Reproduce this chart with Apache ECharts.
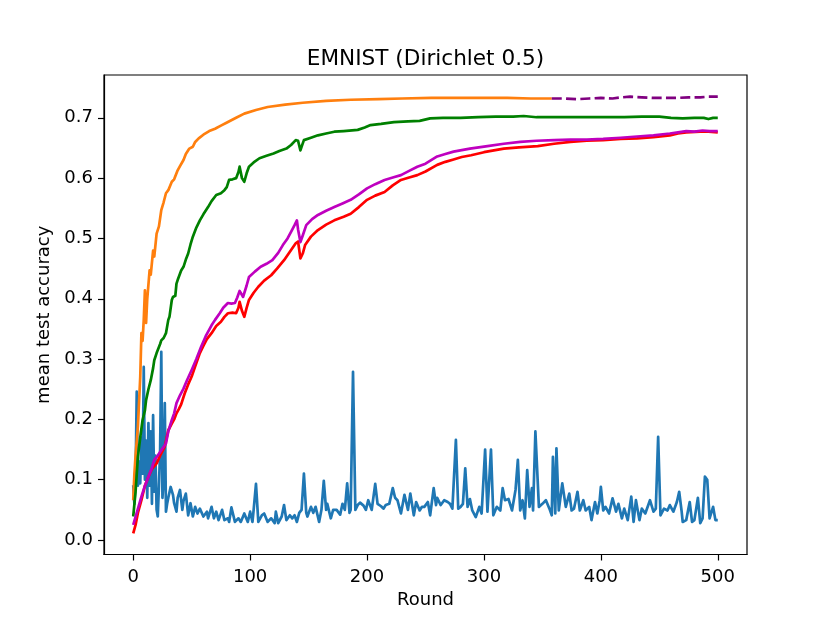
<!DOCTYPE html>
<html>
<head>
<meta charset="utf-8">
<script src="https://cdn.jsdelivr.net/npm/echarts@6/dist/echarts.min.js"></script>
<style>
  html, body { margin: 0; padding: 0; background: #fff; }
  #main { width: 830px; height: 623px; }
</style>
</head>
<body>
<div id="main"></div>
<script>
// tick labels
var xTicks = [0, 100, 200, 300, 400, 500];
var yTicks = [0, 0.1, 0.2, 0.3, 0.4, 0.5, 0.6, 0.7];

// [round, accuracy]
var blueData = [
  [0,0.091],[1,0.06],[2,0.1],[3,0.246],[4,0.09],[5,0.13],[6,0.094],[7,0.17],[8,0.11],[9,0.287],
  [10,0.1],[11,0.165],[12,0.07],[13,0.194],[14,0.09],[15,0.18],[16,0.06],[17,0.207],[18,0.08],[19,0.14],
  [20,0.05],[21,0.039],[22,0.09],[23,0.15],[24,0.312],[25,0.07],[26,0.1],[27,0.227],[28,0.047],[29,0.06],
  [30,0.07],[32,0.088],[34,0.075],[35,0.061],[37,0.047],[38,0.07],[40,0.083],[42,0.05],[43,0.065],[45,0.077],
  [47,0.041],[49,0.061],[51,0.039],[53,0.055],[55,0.044],[57,0.052],[60,0.039],[63,0.047],[64,0.036],[67,0.055],
  [69,0.036],[71,0.047],[73,0.033],[76,0.05],[78,0.033],[81,0.036],[82,0.03],[84,0.054],[87,0.03],[90,0.036],
  [92,0.03],[95,0.044],[98,0.03],[100,0.047],[102,0.03],[103,0.05],[105,0.093],[107,0.03],[110,0.041],[112,0.044],
  [115,0.03],[118,0.036],[121,0.028],[122,0.047],[124,0.028],[127,0.039],[129,0.058],[131,0.033],[134,0.041],[136,0.036],
  [138,0.041],[140,0.03],[142,0.045],[144,0.05],[146,0.11],[148,0.045],[149,0.039],[152,0.055],[154,0.045],[156,0.055],
  [159,0.03],[161,0.05],[163,0.098],[165,0.05],[166,0.06],[169,0.036],[171,0.05],[174,0.05],[177,0.042],[179,0.06],
  [181,0.05],[183,0.094],[185,0.045],[186,0.05],[188,0.279],[190,0.05],[192,0.058],[194,0.062],[197,0.057],[199,0.05],
  [201,0.066],[204,0.05],[207,0.093],[209,0.06],[212,0.056],[214,0.052],[216,0.058],[219,0.06],[222,0.086],[224,0.07],
  [226,0.066],[229,0.044],[232,0.075],[235,0.05],[237,0.077],[240,0.041],[242,0.063],[245,0.049],[247,0.055],[249,0.055],
  [252,0.063],[254,0.041],[257,0.086],[259,0.058],[260,0.07],[263,0.058],[266,0.066],[269,0.063],[271,0.06],[273,0.052],
  [276,0.166],[278,0.052],[280,0.055],[282,0.06],[284,0.119],[286,0.055],[288,0.068],[290,0.049],[293,0.038],[296,0.055],
  [298,0.044],[301,0.15],[303,0.047],[306,0.15],[308,0.041],[311,0.055],[314,0.049],[316,0.086],[318,0.066],[321,0.068],
  [324,0.049],[327,0.083],[329,0.133],[331,0.049],[333,0.066],[335,0.036],[337,0.116],[339,0.055],[341,0.086],[342,0.049],
  [344,0.18],[347,0.055],[350,0.06],[353,0.066],[356,0.052],[358,0.041],[359,0.138],[361,0.044],[362,0.152],[364,0.049],
  [367,0.094],[370,0.055],[373,0.077],[375,0.049],[377,0.052],[380,0.08],[382,0.049],[385,0.066],[387,0.049],[390,0.055],
  [392,0.033],[395,0.063],[397,0.044],[399,0.066],[400,0.088],[402,0.049],[404,0.055],[407,0.044],[410,0.069],[413,0.047],
  [415,0.06],[418,0.036],[420,0.052],[423,0.033],[426,0.072],[428,0.03],[430,0.066],[433,0.033],[435,0.052],[438,0.044],
  [442,0.066],[445,0.047],[447,0.052],[449,0.171],[451,0.041],[454,0.052],[457,0.049],[459,0.058],[462,0.047],[465,0.063],
  [467,0.08],[469,0.049],[470,0.03],[473,0.033],[476,0.063],[478,0.03],[480,0.033],[483,0.07],[485,0.028],[487,0.036],
  [489,0.105],[491,0.1],[493,0.036],[496,0.055],[498,0.033],[500,0.033]
];

var orangeData = [
  [0,0.066],[1,0.11],[2,0.14],[4,0.188],[6,0.27],[7,0.343],[8,0.33],[9,0.365],[10,0.414],[11,0.36],
  [12,0.4],[14,0.447],[15,0.44],[17,0.48],[18,0.47],[20,0.508],[22,0.52],[24,0.547],[26,0.56],[28,0.575],
  [30,0.58],[33,0.594],[35,0.598],[38,0.613],[40,0.62],[43,0.63],[45,0.64],[48,0.649],[51,0.652],[53,0.66],
  [56,0.666],[60,0.672],[65,0.678],[70,0.682],[75,0.687],[81,0.693],[88,0.7],[95,0.707],[105,0.713],[115,0.718],
  [130,0.722],[145,0.725],[165,0.728],[186,0.73],[210,0.731],[230,0.732],[255,0.733],[280,0.733],[300,0.733],[320,0.733],
  [340,0.732],[358,0.732]
];

var purpleData = [
  [358,0.732],[370,0.732],[380,0.731],[390,0.732],[400,0.733],[410,0.732],[418,0.734],[425,0.735],[435,0.734],[445,0.733],
  [455,0.733],[465,0.733],[475,0.734],[485,0.734],[492,0.735],[500,0.735]
];

var greenData = [
  [0,0.039],[2,0.08],[4,0.138],[6,0.17],[8,0.199],[10,0.215],[11,0.232],[13,0.25],[15,0.265],[17,0.285],
  [18,0.298],[20,0.31],[21,0.315],[23,0.325],[24,0.331],[26,0.335],[28,0.343],[30,0.365],[31,0.37],[33,0.398],
  [34,0.403],[36,0.405],[37,0.425],[38,0.431],[41,0.447],[43,0.453],[45,0.465],[47,0.475],[49,0.49],[51,0.503],
  [54,0.518],[57,0.53],[60,0.54],[64,0.552],[67,0.562],[71,0.572],[75,0.575],[78,0.58],[80,0.585],[82,0.597],
  [85,0.598],[88,0.6],[90,0.61],[91,0.619],[93,0.6],[95,0.594],[97,0.608],[99,0.619],[103,0.626],[108,0.633],
  [114,0.637],[120,0.641],[125,0.645],[131,0.649],[135,0.655],[139,0.663],[141,0.662],[143,0.646],[144,0.652],[146,0.663],
  [152,0.667],[158,0.671],[165,0.674],[172,0.677],[180,0.678],[192,0.68],[198,0.684],[203,0.688],[212,0.69],[223,0.693],
  [235,0.694],[245,0.695],[254,0.699],[265,0.7],[280,0.7],[295,0.701],[310,0.702],[325,0.702],[334,0.703],[345,0.701],
  [360,0.701],[375,0.701],[390,0.701],[405,0.701],[420,0.701],[435,0.702],[450,0.702],[460,0.7],[470,0.699],[480,0.7],
  [488,0.7],[492,0.698],[496,0.7],[500,0.7]
];

var redData = [
  [0,0.011],[2,0.025],[4,0.045],[7,0.066],[10,0.09],[13,0.105],[16,0.118],[20,0.127],[23,0.14],[27,0.155],
  [30,0.182],[33,0.193],[35,0.2],[37,0.21],[39,0.217],[41,0.225],[44,0.243],[47,0.258],[50,0.271],[53,0.288],
  [57,0.31],[60,0.322],[63,0.333],[67,0.343],[71,0.355],[75,0.362],[78,0.37],[81,0.376],[85,0.377],[88,0.376],
  [90,0.385],[91,0.395],[93,0.38],[95,0.37],[97,0.385],[99,0.398],[103,0.41],[107,0.42],[112,0.43],[118,0.439],
  [123,0.45],[129,0.464],[134,0.478],[139,0.492],[141,0.495],[143,0.467],[145,0.475],[147,0.489],[152,0.503],[158,0.514],
  [165,0.523],[172,0.53],[180,0.536],[186,0.541],[193,0.552],[200,0.564],[207,0.571],[215,0.577],[222,0.588],[229,0.597],
  [236,0.601],[243,0.605],[250,0.611],[260,0.622],[267,0.627],[274,0.631],[281,0.635],[289,0.638],[300,0.643],[317,0.649],
  [330,0.651],[346,0.653],[360,0.657],[374,0.66],[388,0.662],[402,0.663],[417,0.665],[431,0.666],[445,0.668],[459,0.671],
  [466,0.674],[473,0.676],[485,0.677],[492,0.677],[500,0.676]
];

var magentaData = [
  [0,0.025],[3,0.045],[7,0.072],[10,0.09],[13,0.105],[16,0.12],[18,0.133],[21,0.14],[24,0.149],[28,0.16],
  [30,0.18],[33,0.199],[35,0.21],[37,0.227],[40,0.24],[43,0.251],[46,0.265],[50,0.282],[54,0.3],[58,0.32],
  [62,0.338],[67,0.356],[70,0.365],[74,0.376],[77,0.385],[81,0.393],[84,0.392],[87,0.393],[89,0.402],[91,0.413],
  [94,0.403],[97,0.422],[99,0.436],[104,0.445],[109,0.453],[114,0.458],[119,0.464],[124,0.476],[128,0.489],[132,0.5],
  [135,0.511],[138,0.522],[140,0.53],[141,0.515],[143,0.494],[145,0.505],[148,0.522],[153,0.532],[158,0.539],[165,0.546],
  [172,0.552],[179,0.558],[186,0.564],[193,0.573],[200,0.583],[207,0.59],[215,0.597],[222,0.601],[229,0.605],[236,0.612],
  [243,0.619],[250,0.624],[260,0.636],[267,0.64],[274,0.644],[288,0.649],[303,0.653],[317,0.657],[331,0.66],[345,0.662],
  [360,0.663],[374,0.664],[388,0.664],[402,0.665],[417,0.667],[431,0.669],[445,0.671],[459,0.674],[466,0.676],[473,0.678],
  [480,0.677],[487,0.679],[493,0.678],[500,0.678]
];

var FONT = 'DejaVu Sans';

function lineSeries(data, color, dashed) {
  return {
    type: 'line',
    data: data,
    showSymbol: false,
    symbol: 'none',
    smooth: false,
    lineStyle: {
      color: color,
      width: 2.7,
      type: dashed ? [10, 4.3] : 'solid',
      cap: 'butt',
      join: 'round'
    }
  };
}

var myChart = echarts.init(document.getElementById('main'), null, { renderer: 'canvas' });
var option = {
  animation: false,
  backgroundColor: '#fff',
  title: {
    text: 'EMNIST (Dirichlet 0.5)',
    left: 425.5,
    textAlign: 'center',
    top: 48,
    padding: 0,
    textStyle: { fontFamily: FONT, fontSize: 21.6, fontWeight: 'normal', color: '#000' }
  },
  grid: {
    left: 104, right: 83, top: 75, bottom: 68.5,
    show: true, borderColor: '#000', borderWidth: 1.2, backgroundColor: '#fff'
  },
  xAxis: {
    type: 'value',
    min: -25, max: 525,
    name: 'Round',
    nameLocation: 'middle',
    nameGap: 37,
    nameTextStyle: { fontFamily: FONT, fontSize: 18, color: '#000' },
    axisLine: { show: true, onZero: false, lineStyle: { color: '#000', width: 1.2 } },
    axisTick: { show: true, inside: false, length: 6, customValues: xTicks, lineStyle: { color: '#000', width: 1.2 } },
    axisLabel: { show: true, margin: 14, customValues: xTicks, fontFamily: FONT, fontSize: 18, color: '#000',
      formatter: function (v) { return String(Math.round(v)); } },
    splitLine: { show: false }
  },
  yAxis: {
    type: 'value',
    min: -0.024, max: 0.771,
    name: 'mean test accuracy',
    nameLocation: 'middle',
    nameGap: 48,
    nameTextStyle: { fontFamily: FONT, fontSize: 18, color: '#000' },
    axisLine: { show: true, onZero: false, lineStyle: { color: '#000', width: 1.2 } },
    axisTick: { show: true, inside: false, length: 6, customValues: yTicks, lineStyle: { color: '#000', width: 1.2 } },
    axisLabel: { show: true, margin: 11, customValues: yTicks, fontFamily: FONT, fontSize: 18, color: '#000',
      formatter: function (v) { return v.toFixed(1); } },
    splitLine: { show: false }
  },
  series: [
    lineSeries(blueData, '#1f77b4', false),
    lineSeries(orangeData, '#ff7f0e', false),
    lineSeries(greenData, '#008000', false),
    lineSeries(redData, '#ff0000', false),
    lineSeries(magentaData, '#bf00bf', false),
    lineSeries(purpleData, '#800080', true)
  ]
};
myChart.setOption(option);
</script>
</body>
</html>
